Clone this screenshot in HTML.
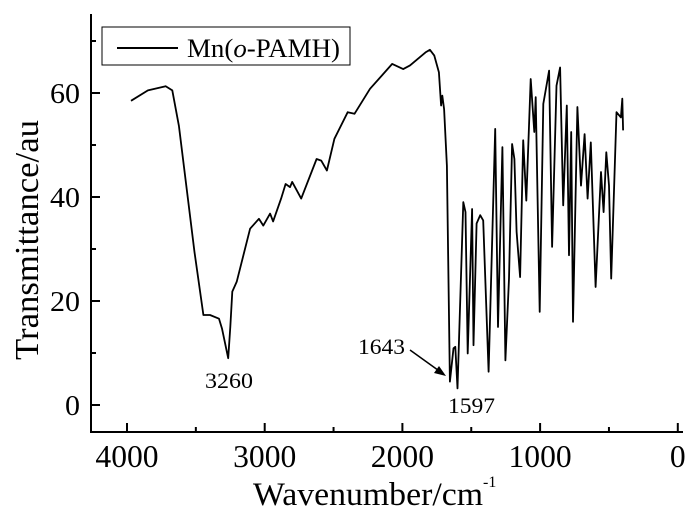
<!DOCTYPE html>
<html><head><meta charset="utf-8"><style>
body{margin:0;background:#fff}
svg text{font-family:"Liberation Serif",serif;fill:#000}
</style></head><body>
<svg width="700" height="518" xmlns="http://www.w3.org/2000/svg">
<g id="axes"></g>
<path id="spec" fill="none" stroke="#000" stroke-width="1.8" stroke-linejoin="round"/>
<g>
<rect x="102" y="27" width="248" height="38" fill="#fff" stroke="#000" stroke-width="1"/>
<line x1="117" y1="48" x2="178" y2="48" stroke="#000" stroke-width="2"/>
<text x="187" y="57" font-size="26" textLength="153" lengthAdjust="spacingAndGlyphs">Mn(<tspan font-style="italic">o</tspan>-PAMH)</text>
</g>
<text x="205" y="388" font-size="22" textLength="48" lengthAdjust="spacingAndGlyphs">3260</text>
<text x="358" y="354" font-size="22" textLength="47" lengthAdjust="spacingAndGlyphs">1643</text>
<line x1="410" y1="350" x2="442" y2="373" stroke="#000" stroke-width="1.5"/>
<polygon points="446,376 434,373 439,366" fill="#000"/>
<text x="448" y="413" font-size="22" textLength="47" lengthAdjust="spacingAndGlyphs">1597</text>
<text x="0" y="0" font-size="34" text-anchor="middle" textLength="240" lengthAdjust="spacingAndGlyphs" transform="translate(38,240) rotate(-90)">Transmittance/au</text>
<text x="253" y="505" font-size="33" textLength="230" lengthAdjust="spacingAndGlyphs">Wavenumber/cm</text><text x="483" y="487" font-size="16">-1</text>
</svg>
<script>
const wn=[3971,3848,3719,3671,3623,3558,3510,3445,3397,3332,3310,3265,3250,3235,3203,3106,3042,3010,2961,2939,2881,2848,2816,2800,2735,2623,2590,2548,2494,2397,2348,2235,2074,1994,1945,1832,1800,1768,1735,1719,1710,1697,1677,1655,1629,1616,1600,1558,1542,1526,1494,1484,1461,1435,1413,1374,1326,1306,1274,1252,1226,1203,1187,1171,1145,1123,1100,1068,1042,1032,1003,977,935,913,881,855,832,806,790,774,761,729,703,677,655,632,597,558,539,519,500,484,445,413,403,397];
const tr=[58.5,60.5,61.3,60.5,53.7,39.7,29.4,17.3,17.3,16.6,14.7,9,15,21.8,23.7,33.9,35.8,34.5,36.8,35.3,39.7,42.5,41.9,42.9,39.7,47.3,47,45.1,51.2,56.3,56,60.8,65.6,64.6,65.3,67.8,68.3,67.2,64,57.6,59.5,56.9,46,4.5,10.9,11.2,3.2,39,37.1,9.9,37.7,11.5,34.9,36.5,35.5,6.4,53.1,15,49.6,8.6,24.3,50.2,47.3,33.3,24.6,50.9,39.3,62.7,52.5,59.2,17.9,57.9,64.3,30.4,61.4,64.9,38.4,57.6,28.8,52.5,16,57.3,42.2,52.1,39.7,50.5,22.7,44.8,37.1,48.6,42.2,24.3,56.3,55.3,58.9,52.8];
const xTicks=[4000,3000,2000,1000,0];
const yTicks=[0,20,40,60];
const X=v=>127+(4000-v)*0.1377;
const Y=v=>405-v*5.2;
const NS="http://www.w3.org/2000/svg";
const ax=document.getElementById('axes');
function mk(t,a){const e=document.createElementNS(NS,t);for(const k in a)e.setAttribute(k,a[k]);ax.appendChild(e);return e;}
let l=mk('line',{x1:91,y1:14,x2:91,y2:432,stroke:'#000','stroke-width':2});


l=mk('line',{x1:90,y1:432,x2:683,y2:432,stroke:'#000','stroke-width':2});


for(let v=0;v<=4000;v+=500){const maj=v%1000===0;const t=mk('line',{x1:X(v),x2:X(v),y1:432,y2:maj?423:427,stroke:'#000','stroke-width':2});

}
xTicks.forEach(v=>{const s=String(v);const t=mk('text',{x:X(v),y:467,'font-size':32,'text-anchor':'middle',textLength:s.length*15.8,lengthAdjust:'spacingAndGlyphs'});t.textContent=s;

});
for(let v=0;v<=70;v+=10){const maj=v%20===0;const t=mk('line',{x1:91,x2:maj?100:96,y1:Y(v),y2:Y(v),stroke:'#000','stroke-width':2});

}
yTicks.forEach(v=>{const s=String(v);const t=mk('text',{x:80,y:Y(v)+10,'font-size':29,'text-anchor':'end',textLength:s.length*15,lengthAdjust:'spacingAndGlyphs'});t.textContent=s;

});
document.getElementById('spec').setAttribute('d',wn.map((w,i)=>(i?'L':'M')+X(w).toFixed(1)+','+Y(tr[i]).toFixed(1)).join(''));
</script>
</body></html>
